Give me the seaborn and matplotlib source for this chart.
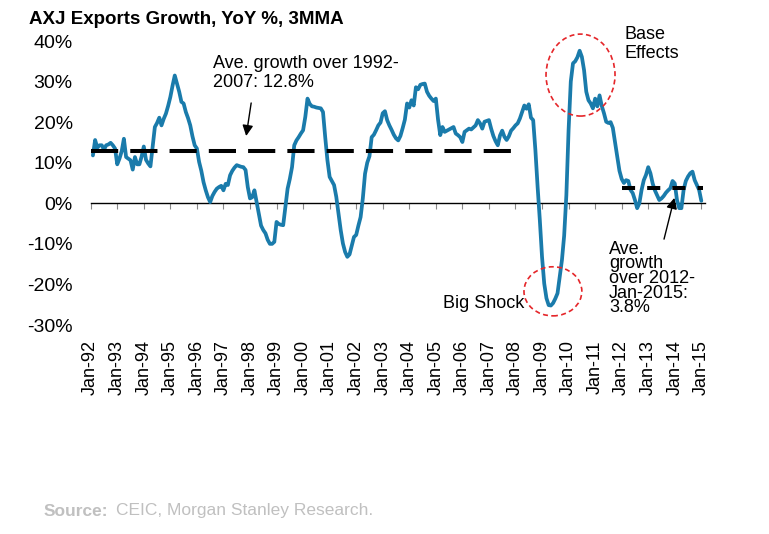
import numpy as np
import pandas as pd
import matplotlib
matplotlib.use("Agg")
import matplotlib.pyplot as plt
from matplotlib.patches import Ellipse
import seaborn as sns

# 数据：AXJ 出口同比增速（3个月移动平均，%），从 1992 年 2 月开始按月读取
start_year = 1992
start_month = 2
yoy_3mma = [
    11.8, 15.6, 13.7, 14.3, 14.3, 13.2, 14.3, 14.5, 14.9, 14.3, 13.5,        # 1992
    9.6, 11.0, 12.8, 15.9, 11.4, 11.0, 10.6, 8.3, 11.4, 9.6, 9.6, 11.5,      # 1993
    14.0, 10.7, 9.8, 9.1, 14.0, 18.8, 19.8, 21.1, 19.2, 20.8, 22.1, 24.0,    # 1994
    26.2, 29.0, 31.5, 29.5, 27.5, 25.0, 24.6, 22.5, 21.0, 19.2, 16.5, 14.3,  # 1995
    13.5, 10.2, 8.0, 5.2, 3.2, 1.5, 0.3, 1.8, 2.8, 3.6, 4.0, 4.3,            # 1996
    3.2, 4.8, 4.5, 6.9, 8.0, 8.8, 9.4, 9.2, 9.0, 8.9, 8.2, 4.0,              # 1997
    1.2, 1.5, 3.2, 0.3, -2.5, -5.5, -6.6, -7.4, -9.0, -10.0, -10.0, -9.5,    # 1998
    -4.6, -5.1, -5.3, -5.4, -0.8, 3.6, 6.0, 8.9, 14.3, 15.5, 16.3, 17.2,     # 1999
    18.0, 21.3, 25.8, 24.5, 23.9, 23.8, 23.6, 23.5, 23.4, 22.5, 16.3, 10.6,  # 2000
    6.5, 5.5, 4.5, 1.6, -2.5, -6.6, -9.9, -12.0, -13.2, -12.6, -10.5, -8.3,  # 2001
    -7.8, -5.5, -3.4, 1.2, 7.3, 10.0, 11.6, 16.3, 16.9, 18.0, 19.2, 19.9,    # 2002
    22.2, 22.7, 20.5, 19.2, 18.1, 16.9, 16.0, 15.5, 16.6, 18.5, 20.6, 24.6,  # 2003
    23.6, 25.4, 24.1, 28.6, 28.1, 29.2, 29.4, 29.5, 27.5, 26.5, 25.8, 25.2,  # 2004
    25.8, 20.6, 16.8, 18.8, 17.6, 17.9, 18.2, 18.5, 18.8, 17.2, 16.8, 16.3,  # 2005
    15.1, 17.6, 18.0, 18.4, 18.2, 18.7, 19.2, 20.5, 19.7, 18.4, 20.1, 20.3,  # 2006
    20.5, 18.4, 16.6, 15.3, 14.3, 16.7, 17.9, 16.4, 15.6, 16.5, 17.9, 18.5,  # 2007
    19.2, 19.7, 20.9, 22.5, 24.1, 23.3, 24.4, 21.1, 20.5, 13.1, 4.1, -4.1,   # 2008
    -13.2, -19.8, -23.4, -25.1, -25.2, -24.6, -23.5, -22.2, -18.1, -14.0, -8.0, 2.0,  # 2009
    18.0, 30.0, 34.5, 35.0, 36.0, 37.6, 36.1, 32.8, 27.5, 25.4, 24.6, 23.4,  # 2010
    25.8, 23.9, 26.6, 24.0, 22.2, 20.1, 19.8, 20.0, 18.6, 15.0, 11.5, 8.0,   # 2011
    6.0, 5.0, 5.7, 5.5, 3.3, 2.5, 0.8, -1.2, 0.0, 3.3, 5.7, 7.0,             # 2012
    8.9, 7.4, 4.9, 3.2, 2.0, 0.8, 1.2, 1.8, 2.6, 3.2, 3.7, 5.5,              # 2013
    4.9, 0.8, -1.2, -1.2, 3.3, 5.5, 6.6, 7.4, 7.8, 5.7, 4.5, 3.3,            # 2014
    0.6,                                                                     # 2015
]

# 两段平均增速
avg_start = [1992.0, 2012.0]
avg_end = [2007.85, 2015.05]
avg_value = [12.8, 3.8]
avg_dashes = [(6.75, 3.0), (3.25, 3.0)]

tick_years = list(range(1992, 2016))
tick_labels = [f"Jan-{y % 100:02d}" for y in tick_years]
y_ticks = [-30, -20, -10, 0, 10, 20, 30, 40]

line_color = "#1a7bab"
red = "#e5262a"

sns.set_theme(style="white")
plt.rcParams['font.family'] = ['Liberation Sans', 'DejaVu Sans']
plt.rcParams['axes.unicode_minus'] = False
plt.rcParams['text.color'] = 'black'

months = np.arange(len(yoy_3mma))
df = pd.DataFrame({
    "year": start_year + (start_month - 1 + months) / 12.0,
    "growth": yoy_3mma,
})

fig = plt.figure(figsize=(7.69, 5.34), dpi=100)
ax = fig.add_axes([90.7 / 769, (534 - 325) / 534, 614.6 / 769, 284 / 534])

sns.lineplot(data=df, x="year", y="growth", ax=ax, color=line_color, linewidth=2.7, zorder=3)

for x0, x1, v, d in zip(avg_start, avg_end, avg_value, avg_dashes):
    ax.plot([x0, x1], [v, v], color="black", linewidth=2.9, dashes=d, zorder=4,
            solid_capstyle="butt", dash_capstyle="butt")

ax.set_xlim(1992.0, 2015.15)
ax.set_ylim(-30, 40)
ax.set_xlabel("")
ax.set_ylabel("")

# 纵轴：只留文字
ax.set_yticks(y_ticks)
ax.set_yticklabels([f"{v}%" for v in y_ticks])
ax.tick_params(axis="y", length=0, pad=13, labelsize=14, labelcolor="black")

# 横轴：零线上的刻度，标签放在底部
for s in ["top", "right", "left"]:
    ax.spines[s].set_visible(False)
ax.spines["bottom"].set_position(("data", 0))
ax.spines["bottom"].set_color("black")
ax.spines["bottom"].set_linewidth(1.0)
ax.set_xticks(tick_years)
ax.tick_params(axis="x", direction="out", length=4.5, width=0.8, color="#888888",
               bottom=True, labelbottom=False)

sec = ax.secondary_xaxis("bottom")
sec.set_xticks(tick_years, labels=tick_labels, rotation=90)
sec.tick_params(axis="x", length=0, pad=11, labelsize=13, labelcolor="black")
sec.spines["bottom"].set_visible(False)

# 注释文字与箭头
ax.text(1996.6, 36.6, "Ave. growth over 1992-\n2007: 12.8%", fontsize=13,
        ha="left", va="top", linespacing=1.2)
ax.annotate("", xy=(1997.84, 15.9), xytext=(1998.06, 25.4),
            arrowprops=dict(arrowstyle="-|>", color="black", lw=1.0, mutation_scale=16))

ax.text(2012.12, 43.8, "Base\nEffects", fontsize=13, ha="left", va="top",
        linespacing=1.2, clip_on=False)

ax.text(2005.27, -25.8, "Big Shock", fontsize=13, ha="left", va="baseline")

ax.text(2011.53, -9.2, "Ave.\ngrowth\nover 2012-\nJan-2015:\n3.8%", fontsize=13,
        ha="left", va="top", linespacing=0.82)
ax.annotate("", xy=(2014.01, 2.0), xytext=(2013.57, -9.5),
            arrowprops=dict(arrowstyle="-|>", color="black", lw=1.0, mutation_scale=16))

# 红色虚线圈
ax.add_patch(Ellipse((2010.45, 31.6), 2.6, 20.2, fill=False, edgecolor=red,
                     linestyle=(0, (3, 2)), linewidth=1.2, zorder=5, clip_on=False))
ax.add_patch(Ellipse((2009.41, -21.7), 2.18, 12.1, fill=False, edgecolor=red,
                     linestyle=(0, (3, 2)), linewidth=1.2, zorder=5, clip_on=False))

# 标题与来源
fig.text(29 / 769, 1 - 19 / 534, "AXJ Exports Growth, YoY %, 3MMA", fontsize=13.5,
         fontweight="bold", color="black", ha="left", va="center")
fig.text(44 / 769, 1 - 511 / 534, "Source:", fontsize=12.5, fontweight="bold",
         color="#c0c0c0", ha="left", va="center")
fig.text(116 / 769, 1 - 511 / 534, "CEIC, Morgan Stanley Research.", fontsize=12.5,
         color="#c0c0c0", ha="left", va="center")

fig.savefig("out.png", dpi=100)
plt.close(fig)
